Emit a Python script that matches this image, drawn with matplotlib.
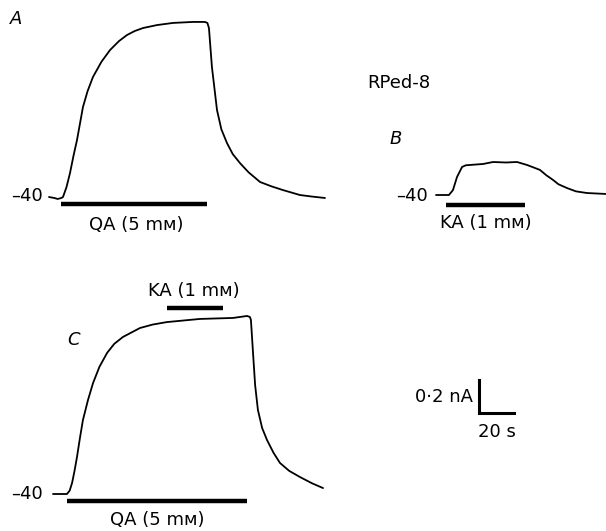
import matplotlib
matplotlib.use("Agg")
import matplotlib.pyplot as plt

plt.rcParams['font.family'] = ['DejaVu Sans']

# ---- data (time in s, current in nA relative to holding current at -40 mV) ----
a_t = [0, 3, 5, 7, 8, 10, 12, 14, 16, 19.4, 22, 25.1, 30, 34.9, 40, 44.6, 49, 53.7,
       61.7, 70.9, 82.3, 89.1, 90.5, 91.4, 93.1, 96, 98.5, 101.7, 105, 109.1, 114,
       120.6, 127, 133.7, 143.4, 150, 157.7]
a_i = [0, -0.006, -0.012, -0.006, 0, 0.06, 0.145, 0.25, 0.345, 0.545, 0.64, 0.727,
       0.82, 0.891, 0.945, 0.982, 1.006, 1.024, 1.042, 1.055, 1.061, 1.061, 1.055,
       1.024, 0.788, 0.527, 0.41, 0.327, 0.26, 0.206, 0.15, 0.091, 0.065, 0.042,
       0.012, 0.003, -0.006]
a_qa = [7, 90]

b_t = [0, 7.4, 9.7, 12, 14.9, 17, 19.4, 26.9, 32.6, 40, 46.3, 52, 55, 59.4, 63, 66.9,
       70, 74.9, 80, 86.3, 97.7]
b_i = [0, 0, 0.03, 0.109, 0.17, 0.18, 0.182, 0.188, 0.2, 0.197, 0.2, 0.182, 0.17,
       0.152, 0.12, 0.091, 0.065, 0.042, 0.022, 0.012, 0.006]
b_ka = [5.7, 50.9]

c_t = [0, 8, 9.5, 10.9, 12.3, 13.7, 15.4, 17.1, 20, 22.9, 26.5, 30.9, 35, 40, 49.7,
       57, 65.1, 84, 102.9, 110.9, 112.5, 113.1, 114.3, 115.5, 117.1, 119.5, 122.3,
       126, 129.7, 135, 141.1, 148, 154.3]
c_i = [0, 0, 0.02, 0.067, 0.14, 0.224, 0.34, 0.448, 0.57, 0.673, 0.77, 0.855, 0.91,
       0.952, 1.006, 1.027, 1.042, 1.061, 1.067, 1.079, 1.073, 1.055, 0.855, 0.66,
       0.509, 0.4, 0.327, 0.25, 0.188, 0.14, 0.103, 0.065, 0.036]
c_qa = [8, 110.9]
c_ka = [65, 97]

scale_nA = 0.2
scale_s = 20

# ---- layout ----
W, H = 606, 531
SX = 1.75   # px per s
SY = 165.0  # px per nA

fig = plt.figure(figsize=(W / 100, H / 100), dpi=100)
ax = fig.add_axes([0, 0, 1, 1])
ax.set_xlim(0, W / SX)
ax.set_ylim(-H / SY, 0)
ax.axis('off')


def P(px, py):
    return px / SX, -py / SY


def trace(ox, oy, t, i):
    x0, y0 = P(ox, oy)
    ax.plot([x0 + v for v in t], [y0 + v for v in i], color='black', lw=1.3,
            solid_joinstyle='round', solid_capstyle='round')
    return x0, y0


def bar(x0, yb_px, span):
    _, yb = P(0, yb_px)
    ax.plot([x0 + span[0], x0 + span[1]], [yb, yb], color='black', lw=3.2,
            solid_capstyle='butt')


fs = 13
M = 'mᴍ'

# Panel A
x0, y0 = trace(49, 197, a_t, a_i)
bar(x0, 204, a_qa)
ax.text(*P(136, 225), f'QA (5 {M})', ha='center', va='center', fontsize=fs)
ax.text(*P(43, 196), '–40', ha='right', va='center', fontsize=fs)
ax.text(*P(10, 19), 'A', ha='left', va='center', fontsize=fs, style='italic')

# Panel B
x0, y0 = trace(436, 195, b_t, b_i)
bar(x0, 205, b_ka)
ax.text(*P(486, 223), f'KA (1 {M})', ha='center', va='center', fontsize=fs)
ax.text(*P(428, 196), '–40', ha='right', va='center', fontsize=fs)
ax.text(*P(390, 139), 'B', ha='left', va='center', fontsize=fs, style='italic')
ax.text(*P(367, 83), 'RPed-8', ha='left', va='center', fontsize=fs)

# Panel C
x0, y0 = trace(53, 494, c_t, c_i)
bar(x0, 501, c_qa)
bar(x0, 308, c_ka)
ax.text(*P(157, 520), f'QA (5 {M})', ha='center', va='center', fontsize=fs)
ax.text(*P(194, 291), f'KA (1 {M})', ha='center', va='center', fontsize=fs)
ax.text(*P(43, 494), '–40', ha='right', va='center', fontsize=fs)
ax.text(*P(67, 340), 'C', ha='left', va='center', fontsize=fs, style='italic')

# Scale bar
cx, cy = P(479, 413)
ax.plot([cx, cx, cx + scale_s], [cy + scale_nA, cy, cy], color='black', lw=2.2,
        solid_joinstyle='miter')
ax.text(*P(473, 397), '0·2 nA', ha='right', va='center', fontsize=fs)
ax.text(*P(497, 432), '20 s', ha='center', va='center', fontsize=fs)

fig.savefig('out.png', dpi=100)
